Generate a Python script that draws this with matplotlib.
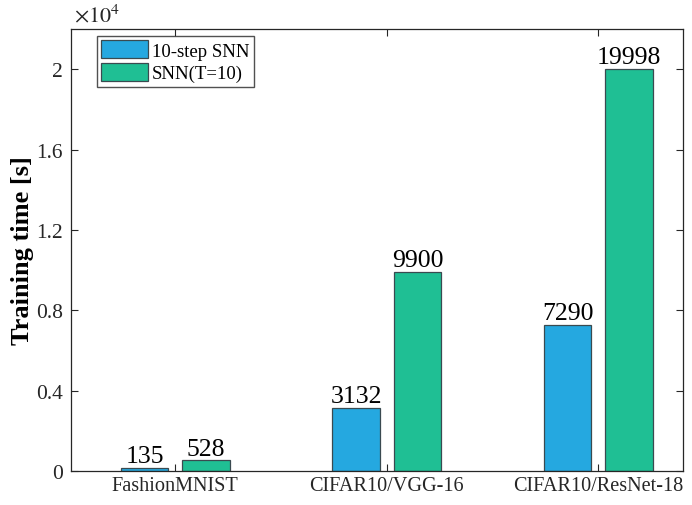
import matplotlib.pyplot as plt
import numpy as np

plt.rcParams['font.family'] = ['Liberation Serif', 'DejaVu Serif']
plt.rcParams['mathtext.fontset'] = 'stix'

# data
datasets = ['FashionMNIST', 'CIFAR10/VGG-16', 'CIFAR10/ResNet-18']
step_snn = [135, 3132, 7290]
snn_t10 = [528, 9900, 19998]
series_names = ['10-step SNN', 'SNN(T=10)']
yticks = [0, 4000, 8000, 12000, 16000, 20000]
ytick_labels = ['0', '0.4', '0.8', '1.2', '1.6', '2']

blue = '#25a8e0'
green = '#1fbf94'
edge = '#3a4a50'

fig = plt.figure(figsize=(6.92, 5.06), dpi=100)
ax = fig.add_axes([0.1026, 0.0672, 0.8844, 0.8735])

x = np.arange(1, len(datasets) + 1)
w = 0.225
off = 0.145
b1 = ax.bar(x - off, step_snn, w, color=blue, edgecolor=edge, linewidth=0.9,
            label=series_names[0])
b2 = ax.bar(x + off, snn_t10, w, color=green, edgecolor=edge, linewidth=0.9,
            label=series_names[1])

for bars, vals in [(b1, step_snn), (b2, snn_t10)]:
    for r, v in zip(bars, vals):
        ax.text(r.get_x() + r.get_width() / 2, v + 40, str(v),
                ha='center', va='bottom', fontsize=18.5)

ax.set_xlim(0.508, 3.40)
ax.set_ylim(0, 22000)
ax.set_xticks(x)
ax.set_xticklabels(datasets, fontsize=14.6, color='#262626')
ax.set_yticks(yticks)
ax.set_yticklabels(ytick_labels, fontsize=15.5, color='#262626')
ax.tick_params(direction='in', length=5, width=0.8, top=True, right=True,
               colors='#262626', labelcolor='#262626')
ax.tick_params(axis='y', pad=6)
for s in ax.spines.values():
    s.set_linewidth(0.9)
    s.set_color('#262626')

ax.set_ylabel('Training time [s]', fontsize=19, fontweight='bold', labelpad=1.5)
ax.text(0.005, 1.005, r'$\times10^{4}$', transform=ax.transAxes, fontsize=16,
        ha='left', va='bottom', color='#262626')

leg = ax.legend(loc='upper left', bbox_to_anchor=(0.042, 0.985), fontsize=13.5,
                frameon=True, fancybox=False, edgecolor='#262626',
                handlelength=2.5, handleheight=1.1, borderpad=0.25,
                labelspacing=0.15, handletextpad=0.2, borderaxespad=0)
leg.get_frame().set_linewidth(1.0)

fig.savefig('out.png', dpi=100)
